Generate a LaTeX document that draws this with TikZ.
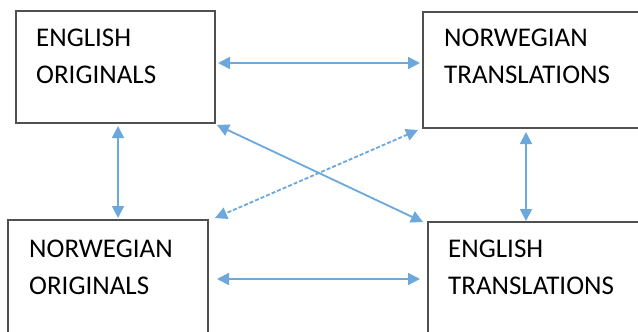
\documentclass[tikz,border=0pt]{standalone}
\usepackage{fontspec}
\setmainfont{Carlito}
\usetikzlibrary{arrows.meta,calc}
\definecolor{arrblue}{RGB}{108,168,220}
\definecolor{boxgray}{RGB}{80,80,80}
\tikzset{
  box/.style={draw=boxgray, line width=1.8pt, rectangle, outer sep=0pt, inner sep=0pt, anchor=north west},
  lbl/.style={anchor=base west, align=left, inner sep=0pt, font=\fontsize{27}{36.5}\selectfont},
  arr/.style={draw=arrblue, line width=1.8pt, {Triangle[length=12pt,width=12pt]}-{Triangle[length=12pt,width=12pt]}},
  dasharr/.style={arr, dash pattern=on 4pt off 2pt}
}
\begin{document}
\begin{tikzpicture}[x=1pt,y=-1pt]
\useasboundingbox (0,0) rectangle (638,332);
\clip (0,0) rectangle (638,332);
\fill[white] (0,0) rectangle (638,332);
\node[box, minimum width=199pt, minimum height=112pt] (eo) at (16,11) {};
\node[box, minimum width=230pt, minimum height=116pt] (nt) at (423,12) {};
\node[box, minimum width=200pt, minimum height=130pt] (no) at (8,220) {};
\node[box, minimum width=230pt, minimum height=130pt] (et) at (428,222) {};
\node[lbl] (eot) at (36,83) {ENGLISH\\ORIGINALS};
\node[lbl] (ntt) at (444,83) {NORWEGIAN\\TRANSLATIONS};
\node[lbl] (not) at (29,294) {NORWEGIAN\\ORIGINALS};
\node[lbl] (ett) at (448,294) {ENGLISH\\TRANSLATIONS};
\draw[arr] ($(eo.north east)+(3,52)$) -- ($(nt.north west)+(-3,51)$);
\draw[arr] ($(eo.south west)+(102,3)$) -- ($(no.north west)+(110,-2)$);
\draw[arr] ($(eo.south east)+(2,2)$) -- ($(et.north west)+(-5,0)$);
\draw[dasharr] ($(nt.south west)+(-5,2)$) -- ($(no.north east)+(7,-2)$);
\draw[arr] ($(nt.south west)+(103,4)$) -- ($(et.north west)+(98,-1)$);
\draw[arr] ($(no.north east)+(9,59)$) -- ($(et.north west)+(-8,57)$);
\end{tikzpicture}
\end{document}
